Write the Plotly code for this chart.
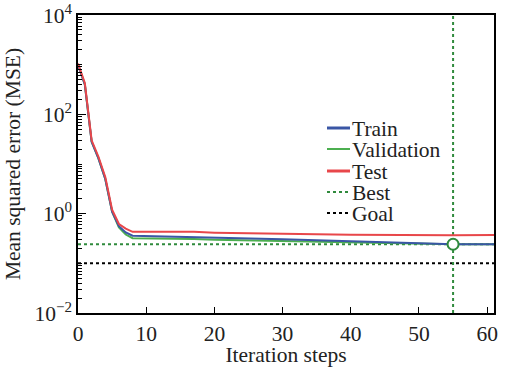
import plotly.graph_objects as go

# ---- data ----
iters = [0, 1, 2, 3, 4, 5, 6, 7, 8, 10, 15, 17, 20, 25, 30, 35, 40, 45, 50, 55, 61]
train = [1000, 400, 28, 13, 5.0, 1.1, 0.56, 0.42, 0.36, 0.355, 0.35, 0.345, 0.335, 0.318,
         0.305, 0.292, 0.28, 0.27, 0.258, 0.242, 0.243]
validation = [1000, 400, 28, 13, 5.0, 1.1, 0.53, 0.38, 0.32, 0.32, 0.315, 0.31, 0.30, 0.29,
              0.28, 0.275, 0.265, 0.258, 0.25, 0.242, 0.243]
test = [1050, 430, 30, 14, 5.5, 1.2, 0.62, 0.5, 0.43, 0.43, 0.43, 0.43, 0.415, 0.40,
        0.392, 0.385, 0.378, 0.372, 0.367, 0.366, 0.37]
best_epoch = 55
best_value = 0.242
goal_value = 0.1
x_range = [0, 61]
y_tickvals = [1e-2, 1, 1e2, 1e4]
y_ticktext = ["10<sup>−2</sup>", "10<sup>0</sup>", "10<sup>2</sup>", "10<sup>4</sup>"]
legend_labels = ["Train", "Validation", "Test", "Best", "Goal"]

BLUE = "#3a56a5"
GREEN = "#4caf50"
RED = "#e8474a"
DGREEN = "#2f8a3c"
FONT = "Liberation Serif, Times New Roman, serif"
FS = 21.5

fig = go.Figure()

# goal & best lines
fig.add_trace(go.Scatter(x=x_range, y=[goal_value, goal_value], mode="lines",
                         line=dict(color="black", width=2, dash="dot"), showlegend=False))
fig.add_trace(go.Scatter(x=x_range, y=[best_value, best_value], mode="lines",
                         line=dict(color=DGREEN, width=2, dash="dot"), showlegend=False))
fig.add_trace(go.Scatter(x=[best_epoch, best_epoch], y=[1e-2, 1e4], mode="lines",
                         line=dict(color=DGREEN, width=2, dash="dot"), showlegend=False))

# curves
fig.add_trace(go.Scatter(x=iters, y=validation, mode="lines",
                         line=dict(color=GREEN, width=2), showlegend=False))
fig.add_trace(go.Scatter(x=iters, y=train, mode="lines",
                         line=dict(color=BLUE, width=2), showlegend=False))
fig.add_trace(go.Scatter(x=iters, y=test, mode="lines",
                         line=dict(color=RED, width=2), showlegend=False))

# best marker
fig.add_trace(go.Scatter(x=[best_epoch], y=[best_value], mode="markers",
                         marker=dict(size=11, color="white", line=dict(color=DGREEN, width=2)),
                         showlegend=False))

# minor ticks
minor_vals = []
for e in range(-2, 4):
    for k in range(2, 11):
        minor_vals.append(k * 10 ** e)

# manual legend
L, R, T, B = 78, 494, 15, 313
W, H = R - L, B - T
def px(x):
    return (x - L) / W
def py(y):
    return (B - y) / H

rows = [128, 149, 171, 192, 213]
styles = [dict(color=BLUE, width=3), dict(color=GREEN, width=2), dict(color=RED, width=3),
          dict(color=DGREEN, width=2, dash="dot"), dict(color="black", width=2, dash="dot")]
shapes = []
annotations = []
for lab, ry, st in zip(legend_labels, rows, styles):
    shapes.append(dict(type="line", xref="paper", yref="paper", x0=px(327), x1=px(350),
                       y0=py(ry), y1=py(ry), line=st))
    annotations.append(dict(text=lab, xref="paper", yref="paper", x=px(350), y=py(ry + 1),
                            xanchor="left", yanchor="middle", showarrow=False,
                            font=dict(family=FONT, size=FS, color="#222")))

fig.update_layout(
    width=505, height=367,
    margin=dict(l=L, r=505 - R, t=T, b=367 - B),
    paper_bgcolor="white", plot_bgcolor="white",
    font=dict(family=FONT, size=FS, color="#222"),
    showlegend=False,
    shapes=shapes, annotations=annotations,
)
fig.update_xaxes(range=x_range, dtick=10, tick0=0, ticks="inside", ticklen=6, tickwidth=1.2,
                 tickcolor="black", showline=True, linecolor="black", linewidth=1.5,
                 mirror=True, showgrid=False, zeroline=False, automargin=False,
                 title=dict(text="Iteration steps", standoff=4, font=dict(size=FS)),
                 tickfont=dict(size=FS))
fig.update_yaxes(type="log", range=[-2, 4], tickmode="array", tickvals=y_tickvals,
                 ticktext=y_ticktext, ticks="inside", ticklen=8, tickwidth=1.2,
                 tickcolor="black", showline=True, linecolor="black", linewidth=1.5,
                 mirror=True, showgrid=False, zeroline=False, ticklabelstandoff=0,
                 automargin=False,
                 minor=dict(tickmode="array", tickvals=minor_vals, ticks="inside", ticklen=4,
                            tickwidth=1, tickcolor="black", showgrid=False),
                 title=dict(text="Mean squared error (MSE)", standoff=8, font=dict(size=FS)),
                 tickfont=dict(size=FS))

fig.write_html("out.html", config={"displayModeBar": False},
               post_script="document.body.style.margin='0';document.body.style.overflow='hidden';")
